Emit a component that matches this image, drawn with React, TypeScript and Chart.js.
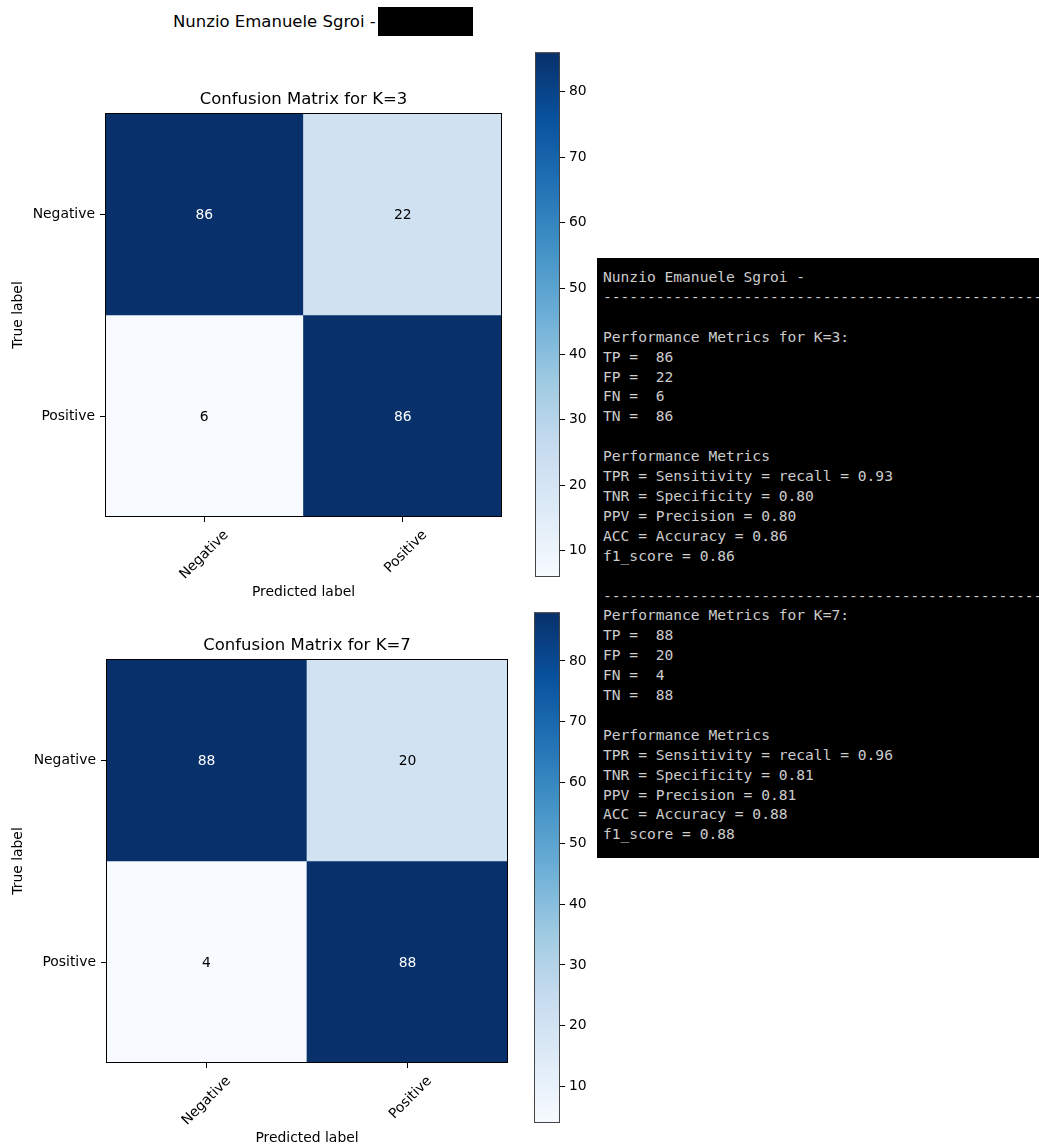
import React, { useEffect, useRef } from 'react';
import { Chart, registerables } from 'chart.js';

Chart.register(...registerables);

// ---- data ----
const AUTHOR = 'Nunzio Emanuele Sgroi -';
const CLASS_LABELS = ['Negative', 'Positive'];
const K_VALUES = [3, 7];
// rows = true label, columns = predicted label
const K3_NEGATIVE_ROW = [86, 22];
const K3_POSITIVE_ROW = [6, 86];
const K7_NEGATIVE_ROW = [88, 20];
const K7_POSITIVE_ROW = [4, 88];
const COLORBAR_TICKS = [10, 20, 30, 40, 50, 60, 70, 80];

// matplotlib "Blues" colormap control points
const BLUES = [
  '#f7fbff', '#deebf7', '#c6dbef', '#9ecae1', '#6baed6',
  '#4292c6', '#2171b5', '#08519c', '#08306b',
];

const SANS = "'DejaVu Sans', 'Liberation Sans', sans-serif";
const MONO = "'DejaVu Sans Mono', 'Liberation Mono', monospace";

function hexToRgb(h: string) {
  return [1, 3, 5].map((i) => parseInt(h.slice(i, i + 2), 16));
}

function blues(t: number) {
  const tt = Math.min(1, Math.max(0, t)) * (BLUES.length - 1);
  const i = Math.min(BLUES.length - 2, Math.floor(tt));
  const f = tt - i;
  const a = hexToRgb(BLUES[i]);
  const b = hexToRgb(BLUES[i + 1]);
  const c = a.map((v, j) => Math.round(v + (b[j] - v) * f));
  return `rgb(${c[0]},${c[1]},${c[2]})`;
}

function ChartCanvas({ build, left, top, width, height }: any) {
  const ref = useRef<HTMLCanvasElement>(null);
  useEffect(() => {
    const chart = new Chart(ref.current as HTMLCanvasElement, build());
    return () => chart.destroy();
  }, []);
  return (
    <canvas
      ref={ref}
      width={width}
      height={height}
      style={{ position: 'absolute', left, top, width, height }}
    />
  );
}

function matrixConfig(k: number, rows: number[][], opts: any) {
  const flat = rows.flat();
  const vmin = Math.min(...flat);
  const vmax = Math.max(...flat);
  const tickFont = { family: SANS, size: 13.9 };

  const datasets = rows.map((row, r) => ({
    label: CLASS_LABELS[r],
    data: row.map(() => [r - 0.5, r + 0.5]),
    backgroundColor: row.map((v) => blues((v - vmin) / (vmax - vmin))),
    borderWidth: 0,
    barPercentage: 1,
    categoryPercentage: 1,
    grouped: false,
  }));

  const cellText = {
    id: 'cellText',
    afterDatasetsDraw(chart: any) {
      const { ctx, chartArea: a } = chart;
      const x = chart.scales.x;
      const y = chart.scales.y;
      ctx.save();
      ctx.font = `13.9px ${SANS}`;
      ctx.textAlign = 'center';
      ctx.textBaseline = 'middle';
      rows.forEach((row, r) =>
        row.forEach((v, c) => {
          ctx.fillStyle = v > vmax / 2 ? '#ffffff' : '#000000';
          ctx.fillText(String(v), x.getPixelForValue(c), y.getPixelForValue(r) + 1);
        })
      );
      ctx.strokeStyle = '#000';
      ctx.lineWidth = 1;
      ctx.strokeRect(a.left + 0.5, a.top + 0.5, a.right - a.left - 1, a.bottom - a.top - 1);
      ctx.restore();
    },
  };

  return {
    type: 'bar',
    data: { labels: CLASS_LABELS, datasets },
    plugins: [cellText],
    options: {
      responsive: false,
      animation: false,
      events: [],
      layout: { padding: { left: 0, right: opts.rightPad, top: 0, bottom: 0 } },
      plugins: {
        legend: { display: false },
        tooltip: { enabled: false },
        title: {
          display: true,
          fullSize: false,
          align: 'center',
          text: `Confusion Matrix for K=${k}`,
          color: '#000',
          font: { family: SANS, size: 16.5, weight: 'normal' },
          padding: { top: 6, bottom: 3.2 },
        },
      },
      scales: {
        x: {
          type: 'category',
          offset: true,
          grid: {
            display: true,
            drawOnChartArea: false,
            drawTicks: true,
            tickLength: 5,
            tickColor: '#000',
            offset: false,
          },
          border: { display: false },
          ticks: {
            color: '#000',
            font: tickFont,
            minRotation: 45,
            maxRotation: 45,
            padding: 5,
            labelOffset: 22,
            autoSkip: false,
          },
          title: {
            display: true,
            text: 'Predicted label',
            color: '#000',
            font: tickFont,
            padding: { top: 0, bottom: opts.xTitlePad },
          },
          afterFit: (s: any) => {
            s.height = opts.xAxisHeight;
          },
        },
        y: {
          type: 'linear',
          min: -0.5,
          max: 1.5,
          reverse: true,
          afterBuildTicks: (s: any) => {
            s.ticks = CLASS_LABELS.map((_, i) => ({ value: i }));
          },
          grid: {
            display: true,
            drawOnChartArea: false,
            drawTicks: true,
            tickLength: 5,
            tickColor: '#000',
          },
          border: { display: false },
          ticks: {
            color: '#000',
            font: tickFont,
            padding: 5,
            callback: (v: number) => CLASS_LABELS[v],
          },
          title: {
            display: true,
            text: 'True label',
            color: '#000',
            font: tickFont,
            padding: { top: 9.7, bottom: 0 },
          },
          afterFit: (s: any) => {
            s.width = opts.yAxisWidth;
          },
        },
      },
    },
  };
}

function colorbarConfig(rows: number[][], opts: any) {
  const flat = rows.flat();
  const vmin = Math.min(...flat);
  const vmax = Math.max(...flat);

  const gradientBar = {
    id: 'gradientBar',
    beforeDatasetsDraw(chart: any) {
      const { ctx, chartArea: a } = chart;
      const y = chart.scales.y;
      const g = ctx.createLinearGradient(0, y.getPixelForValue(vmin), 0, y.getPixelForValue(vmax));
      BLUES.forEach((col, i) => g.addColorStop(i / (BLUES.length - 1), col));
      ctx.save();
      ctx.fillStyle = g;
      ctx.fillRect(a.left, a.top, a.right - a.left, a.bottom - a.top);
      ctx.strokeStyle = '#444';
      ctx.lineWidth = 1;
      ctx.strokeRect(a.left + 0.5, a.top + 0.5, a.right - a.left - 1, a.bottom - a.top - 1);
      ctx.restore();
    },
  };

  return {
    type: 'scatter',
    data: { datasets: [{ data: [] }] },
    plugins: [gradientBar],
    options: {
      responsive: false,
      animation: false,
      events: [],
      layout: { padding: { left: opts.padLeft, right: 0, top: opts.padTop, bottom: opts.padBottom } },
      plugins: { legend: { display: false }, tooltip: { enabled: false } },
      scales: {
        x: { display: false, min: 0, max: 1 },
        y: {
          position: 'right',
          min: vmin,
          max: vmax,
          afterBuildTicks: (s: any) => {
            s.ticks = COLORBAR_TICKS.map((v) => ({ value: v }));
          },
          grid: {
            display: true,
            drawOnChartArea: false,
            drawTicks: true,
            tickLength: 5,
            tickColor: '#000',
          },
          border: { display: false },
          ticks: { color: '#000', font: { family: SANS, size: 13.9 }, padding: 4 },
          afterFit: (s: any) => {
            s.width = 40;
          },
        },
      },
    },
  };
}

function metricLines(k: number, rows: number[][]) {
  const [[tp, fp], [fn, tn]] = rows;
  const tpr = tp / (tp + fn);
  const tnr = tn / (tn + fp);
  const ppv = tp / (tp + fp);
  const acc = (tp + tn) / (tp + fp + fn + tn);
  const f1 = (2 * ppv * tpr) / (ppv + tpr);
  return [
    `Performance Metrics for K=${k}:`,
    `TP =  ${tp}`,
    `FP =  ${fp}`,
    `FN =  ${fn}`,
    `TN =  ${tn}`,
    '',
    'Performance Metrics',
    `TPR = Sensitivity = recall = ${tpr.toFixed(2)}`,
    `TNR = Specificity = ${tnr.toFixed(2)}`,
    `PPV = Precision = ${ppv.toFixed(2)}`,
    `ACC = Accuracy = ${acc.toFixed(2)}`,
    `f1_score = ${f1.toFixed(2)}`,
  ];
}

export default function App() {
  const k3 = [K3_NEGATIVE_ROW, K3_POSITIVE_ROW];
  const k7 = [K7_NEGATIVE_ROW, K7_POSITIVE_ROW];
  const dashes = '-'.repeat(80);
  const consoleText = [
    AUTHOR,
    dashes,
    '',
    ...metricLines(K_VALUES[0], k3),
    '',
    dashes,
    ...metricLines(K_VALUES[1], k7),
  ].join('\n');

  return (
    <div
      style={{
        position: 'absolute',
        left: 0,
        top: 0,
        width: 1039,
        height: 1147,
        background: '#fff',
        overflow: 'hidden',
      }}
    >
      <div
        style={{
          position: 'absolute',
          left: 173,
          top: 12,
          fontFamily: SANS,
          fontSize: 16.5,
          lineHeight: '20px',
          color: '#000',
          whiteSpace: 'pre',
        }}
      >
        {AUTHOR}
      </div>
      <div style={{ position: 'absolute', left: 378, top: 7, width: 95, height: 29, background: '#000' }} />

      <ChartCanvas
        left={0}
        top={84}
        width={520}
        height={530}
        build={() =>
          matrixConfig(K_VALUES[0], k3, { rightPad: 18, yAxisWidth: 105, xAxisHeight: 97, xTitlePad: 13.7 })
        }
      />
      <ChartCanvas
        left={500}
        top={40}
        width={100}
        height={560}
        build={() => colorbarConfig(k3, { padLeft: 35, padTop: 12, padBottom: 23 })}
      />

      <ChartCanvas
        left={0}
        top={630}
        width={520}
        height={517}
        build={() =>
          matrixConfig(K_VALUES[1], k7, { rightPad: 12, yAxisWidth: 106, xAxisHeight: 84, xTitlePad: 0.7 })
        }
      />
      <ChartCanvas
        left={500}
        top={600}
        width={100}
        height={540}
        build={() => colorbarConfig(k7, { padLeft: 34, padTop: 11, padBottom: 17 })}
      />

      <div
        style={{
          position: 'absolute',
          left: 597,
          top: 258,
          width: 442,
          height: 600,
          background: '#000',
          overflow: 'hidden',
        }}
      >
        <pre
          style={{
            margin: 0,
            padding: '9px 0 0 6px',
            fontFamily: MONO,
            fontSize: 14.6,
            lineHeight: '19.9px',
            color: '#cccccc',
          }}
        >
          {consoleText}
        </pre>
      </div>
    </div>
  );
}
